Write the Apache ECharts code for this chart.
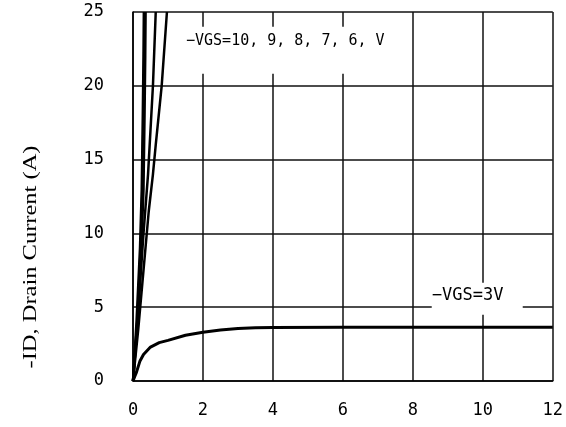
<!DOCTYPE html>
<html>
<head>
<meta charset="utf-8">
<script src="https://cdn.jsdelivr.net/npm/echarts@6/dist/echarts.min.js"></script>
<style>html,body{margin:0;padding:0;background:#fff;}#c{width:566px;height:427px;}</style>
</head>
<body>
<div id="c"></div>
<script>
// Data (Vds in V, Id in A)
var xTicks = [0, 2, 4, 6, 8, 10, 12];
var yTicks = [0, 5, 10, 15, 20, 25];

var vds10 = [0, 0.10, 0.20, 0.25, 0.28, 0.30, 0.31];
var id10  = [0, 4, 9, 13, 18, 22, 25];
var vds9  = [0, 0.12, 0.22, 0.27, 0.30, 0.32, 0.33];
var id9   = [0, 4, 9, 13, 18, 22, 25];
var vds8  = [0, 0.13, 0.24, 0.30, 0.33, 0.35, 0.36];
var id8   = [0, 4, 9, 13, 18, 22, 25];
var vds7  = [0, 0.10, 0.20, 0.30, 0.43, 0.50, 0.57, 0.65];
var id7   = [0, 3, 6.5, 10, 14, 17, 20, 25];
var vds6  = [0, 0.15, 0.30, 0.45, 0.57, 0.65, 0.82, 0.97];
var id6   = [0, 3.5, 7.5, 11.5, 14, 16, 20, 25];
var vds3  = [0, 0.05, 0.10, 0.20, 0.30, 0.50, 0.75, 1.0, 1.5, 2.0, 2.5, 3.0, 3.5, 4.0, 6.0, 8.0, 10.0, 12.0];
var id3   = [0, 0.3, 0.6, 1.36, 1.8, 2.3, 2.6, 2.75, 3.1, 3.3, 3.45, 3.55, 3.6, 3.63, 3.64, 3.64, 3.64, 3.64];

var labelTexts = ['\u2212VGS=10, 9, 8, 7, 6, V', '\u2212VGS=3V'];
var labelAnchors = [[1.40, 24.0], [8.54, 6.66]];   // top-left of each label box, data units
var yTitle = '-ID, Drain Current (A)';

function pairs(xs, ys) { return xs.map(function (x, i) { return [x, ys[i]]; }); }

var chart = echarts.init(document.getElementById('c'), null, { renderer: 'canvas' });
function curve(name, xs, ys, w) {
  return {
    name: name, type: 'line', data: pairs(xs, ys), showSymbol: false, symbol: 'none',
    lineStyle: { color: '#000', width: w || 2.5 }, clip: true, z: 3
  };
}

chart.setOption({
  animation: false,
  backgroundColor: '#fff',
  grid: { left: 133, right: 13, top: 12, bottom: 46, containLabel: false },
  xAxis: {
    type: 'value', min: xTicks[0], max: xTicks[xTicks.length - 1], interval: 2,
    axisLine: { show: true, lineStyle: { color: '#000', width: 1.5 } },
    axisTick: { show: false },
    axisLabel: { margin: 21, fontFamily: 'DejaVu Sans Mono', fontSize: 17, color: '#000',
      showMinLabel: true, showMaxLabel: true },
    splitLine: { show: true, lineStyle: { color: '#111', width: 1.5 } }
  },
  yAxis: {
    type: 'value', min: yTicks[0], max: yTicks[yTicks.length - 1], interval: 5,
    axisLine: { show: true, lineStyle: { color: '#000', width: 1.5 } },
    axisTick: { show: false },
    axisLabel: { margin: 29, fontFamily: 'DejaVu Sans Mono', fontSize: 17, color: '#000' },
    splitLine: { show: true, lineStyle: { color: '#111', width: 1.5 } }
  },
  series: [
    curve('10', vds10, id10),
    curve('9', vds9, id9),
    curve('8', vds8, id8),
    curve('7', vds7, id7),
    curve('6', vds6, id6),
    curve('3', vds3, id3, 3)
  ]
});

var p1 = chart.convertToPixel({ gridIndex: 0 }, labelAnchors[0]);
var p2 = chart.convertToPixel({ gridIndex: 0 }, labelAnchors[1]);

chart.setOption({
  graphic: [
    { type: 'rect', z: 100, x: p1[0], y: p1[1], shape: { width: 218, height: 47 }, style: { fill: '#fff' } },
    { type: 'text', z: 101, x: p1[0] + 4, y: p1[1] + 7,
      style: { text: labelTexts[0], font: '15px "DejaVu Sans Mono"', fill: '#000', align: 'left', verticalAlign: 'top' } },
    { type: 'rect', z: 100, x: p2[0], y: p2[1], shape: { width: 91, height: 32 }, style: { fill: '#fff' } },
    { type: 'text', z: 101, x: p2[0], y: p2[1] + 4,
      style: { text: labelTexts[1], font: '17px "DejaVu Sans Mono"', fill: '#000', align: 'left', verticalAlign: 'top' } },
    { type: 'text', z: 101, x: 31, y: 257, rotation: Math.PI / 2, scaleX: 1.36,
      style: { text: yTitle, font: '18px "Liberation Serif"', fill: '#000', align: 'center', verticalAlign: 'middle' } }
  ]
});
</script>
</body>
</html>
